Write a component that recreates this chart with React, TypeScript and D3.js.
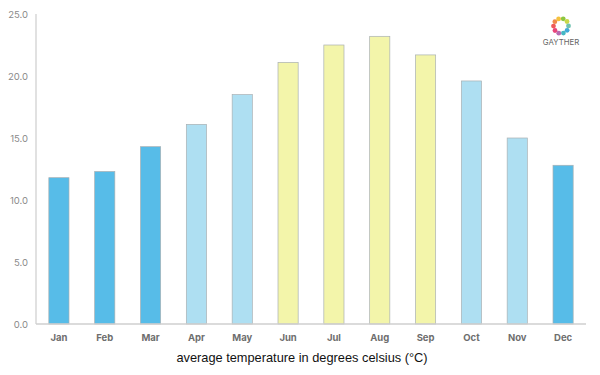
import React from "react";
import * as d3 from "d3";

const months = ["Jan","Feb","Mar","Apr","May","Jun","Jul","Aug","Sep","Oct","Nov","Dec"];
const temps = [11.8,12.3,14.3,16.1,18.5,21.1,22.5,23.2,21.7,19.6,15.0,12.8];
const seasons = ["cold","cold","cold","mild","mild","warm","warm","warm","warm","mild","mild","cold"];
const yTicks = [0,5,10,15,20,25];
const seasonColors: Record<string,string> = { cold:"#57bce8", mild:"#aedff2", warm:"#f3f5aa" };
const logoColors = ["#8cc63f","#c9d84a","#6fc2b0","#3fa9d8","#45b7c4","#b56bb0","#e8457a","#ee5a5a","#f08a4b","#f5c23e"];
const font = "'Century Gothic', Inter, 'Noto Sans', sans-serif";

const W = 600, H = 375;
const x = d3.scaleBand<string>().domain(months).range([36,586]).paddingInner(0.56).paddingOuter(0.28);
const y = d3.scaleLinear().domain([0,25]).range([324,14]);

export default function App() {
  return (
    <svg width={W} height={H} viewBox={`0 0 ${W} ${H}`} style={{position:"absolute",left:0,top:0,background:"#fff"}}>
      {months.map((m,i)=>(
        <rect key={m} x={x(m)} y={y(temps[i])} width={x.bandwidth()} height={y(0)-y(temps[i])}
          fill={seasonColors[seasons[i]]} stroke="#a9b0b3" strokeWidth={0.7}/>
      ))}
      <line x1={36} x2={36} y1={14} y2={324} stroke="#d4d4d4" strokeWidth={1.4}/>
      <line x1={36} x2={586} y1={324} y2={324} stroke="#cfcfcf" strokeWidth={1.4}/>
      {yTicks.map(t=>(
        <text key={t} x={28} y={y(t)+3.5} textAnchor="end" fontSize={9.5} fontFamily={font} fill="#8a8a8a">{t.toFixed(1)}</text>
      ))}
      {months.map(m=>(
        <text key={m} x={x(m)!+x.bandwidth()/2} y={340.5} textAnchor="middle" fontSize={9.5} fontWeight={700} fontFamily={font} fill="#6e6e6e">{m}</text>
      ))}
      <text x={302} y={362} textAnchor="middle" fontSize={12.8} fontFamily="'Liberation Sans', Arial, sans-serif" fill="#111">average temperature in degrees celsius (°C)</text>
      <g transform="translate(561,26)">
        {logoColors.map((c,i)=>{
          const a = (i/logoColors.length)*Math.PI*2 - Math.PI/2 + 0.3;
          return <circle key={i} cx={Math.cos(a)*7.5} cy={Math.sin(a)*7.5} r={2.4} fill={c}/>;
        })}
      </g>
      <text x={561} y={44.5} textAnchor="middle" fontSize={7.8} fontFamily={font} fill="#666">GAYTHER</text>
    </svg>
  );
}
